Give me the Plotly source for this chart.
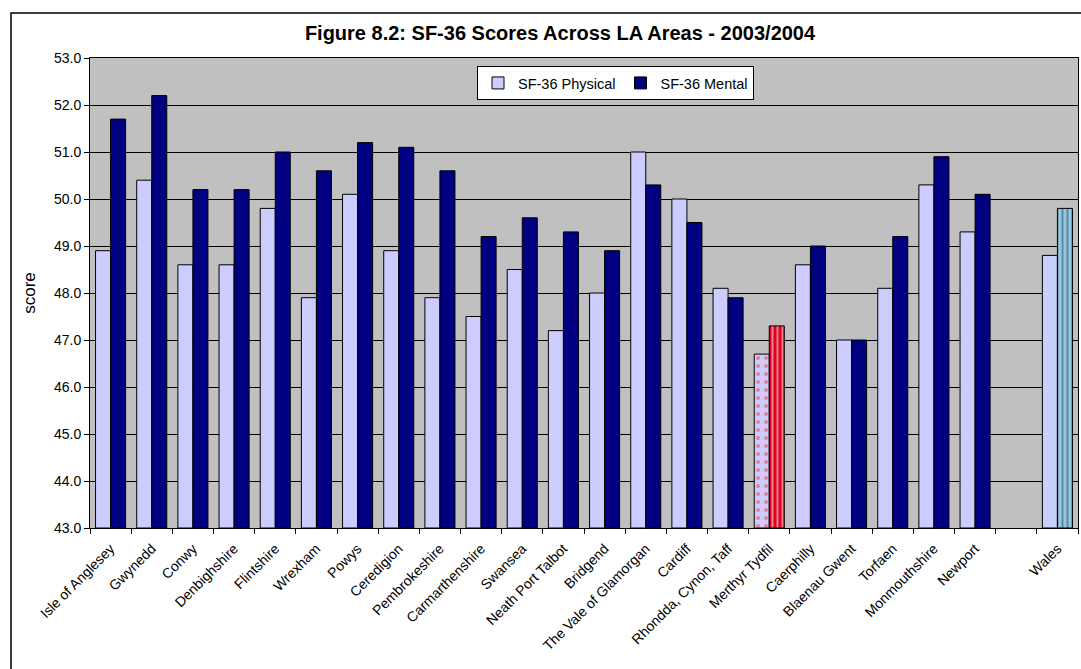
import plotly.graph_objects as go

areas = ["Isle of Anglesey", "Gwynedd", "Conwy", "Denbighshire", "Flintshire", "Wrexham",
         "Powys", "Ceredigion", "Pembrokeshire", "Carmarthenshire", "Swansea",
         "Neath Port Talbot", "Bridgend", "The Vale of Glamorgan", "Cardiff",
         "Rhondda, Cynon, Taff", "Merthyr Tydfil", "Caerphilly", "Blaenau Gwent",
         "Torfaen", "Monmouthshire", "Newport", " ", "Wales"]
physical = [48.9, 50.4, 48.6, 48.6, 49.8, 47.9, 50.1, 48.9, 47.9, 47.5, 48.5,
            47.2, 48.0, 51.0, 50.0, 48.1, 46.7, 48.6, 47.0, 48.1, 50.3, 49.3, None, 48.8]
mental = [51.7, 52.2, 50.2, 50.2, 51.0, 50.6, 51.2, 51.1, 50.6, 49.2, 49.6,
          49.3, 48.9, 50.3, 49.5, 47.9, 47.3, 49.0, 47.0, 49.2, 50.9, 50.1, None, 49.8]
y_ticks = [43, 44, 45, 46, 47, 48, 49, 50, 51, 52, 53]

# highlighted bars: Merthyr Tydfil and Wales
phys_col, ment_col = "#CCCCFF", "#000080"
phys_shape, phys_fg, phys_bg = [], [], []
ment_shape, ment_fg, ment_bg, ment_col_list = [], [], [], []
for a in areas:
    if a == "Merthyr Tydfil":
        phys_shape.append("."); phys_fg.append("#FF3333"); phys_bg.append(phys_col)
        ment_shape.append("|"); ment_fg.append("#000080"); ment_bg.append("#E00020")
        ment_col_list.append("#E00020")
    elif a == "Wales":
        phys_shape.append("."); phys_fg.append("#A8E8E0"); phys_bg.append(phys_col)
        ment_shape.append("|"); ment_fg.append("#000080"); ment_bg.append("#8FC8E8")
        ment_col_list.append("#8FC8E8")
    else:
        phys_shape.append(""); phys_fg.append(phys_col); phys_bg.append(phys_col)
        ment_shape.append(""); ment_fg.append(ment_col); ment_bg.append(ment_col)
        ment_col_list.append(ment_col)

fig = go.Figure()
fig.add_trace(go.Bar(
    x=areas, y=[None if v is None else v - 43 for v in physical], base=43,
    name="SF-36 Physical",
    marker=dict(color=phys_col, line=dict(color="black", width=1),
                pattern=dict(shape=phys_shape, fgcolor=phys_fg, bgcolor=phys_bg,
                             size=8, solidity=0.2))))
fig.add_trace(go.Bar(
    x=areas, y=[None if v is None else v - 43 for v in mental], base=43,
    name="SF-36 Mental",
    marker=dict(color=ment_col_list, line=dict(color="black", width=1),
                pattern=dict(shape=ment_shape, fgcolor=ment_fg, bgcolor=ment_bg,
                             size=5, solidity=0.4))))

L, R, T, B = 90, 1078, 58, 528
W, H = 1081, 669
pw, ph = R - L, B - T

def px_x(p):
    return (p - L) / pw

def px_y(p):
    return (B - p) / ph

fig.update_layout(
    width=W, height=H,
    margin=dict(l=L, r=W - R, t=T, b=H - B),
    paper_bgcolor="white", plot_bgcolor="#C0C0C0",
    font=dict(family="Liberation Sans, Arial, sans-serif", size=14, color="black"),
    barmode="group", bargap=0.27, bargroupgap=0,
    title=dict(text="<b>Figure 8.2: SF-36 Scores Across LA Areas - 2003/2004</b>",
               font=dict(size=20), x=px_x(560), xref="paper", xanchor="center",
               y=1 - 33 / H, yanchor="middle"),
    legend=dict(orientation="h", x=px_x(477), y=px_y(66), xanchor="left", yanchor="top",
                bgcolor="white", bordercolor="black", borderwidth=1,
                font=dict(size=14.5), itemwidth=30),
    showlegend=True,
    shapes=[dict(type="rect", xref="paper", yref="paper",
                 x0=px_x(11), x1=px_x(1090), y0=px_y(690), y1=px_y(13),
                 line=dict(color="black", width=1.5), layer="below")],
)
fig.update_xaxes(type="category", tickangle=-45, ticks="outside", tickson="boundaries",
                 ticklen=5, tickcolor="black", showline=True, linecolor="black",
                 mirror=True, showgrid=False, tickfont=dict(size=14),
                 ticklabelstandoff=6)
fig.update_yaxes(range=[43, 53], tickvals=y_ticks, tickformat=".1f", ticks="outside",
                 ticklen=5, tickcolor="black", showline=True, linecolor="black",
                 mirror=True, showgrid=True, gridcolor="black", gridwidth=1,
                 zeroline=False, title=dict(text="score", standoff=14),
                 tickfont=dict(size=14))

fig.write_html("out.html", config={"displayModeBar": False},
               post_script="document.body.style.margin='0';document.body.style.overflow='hidden';")
